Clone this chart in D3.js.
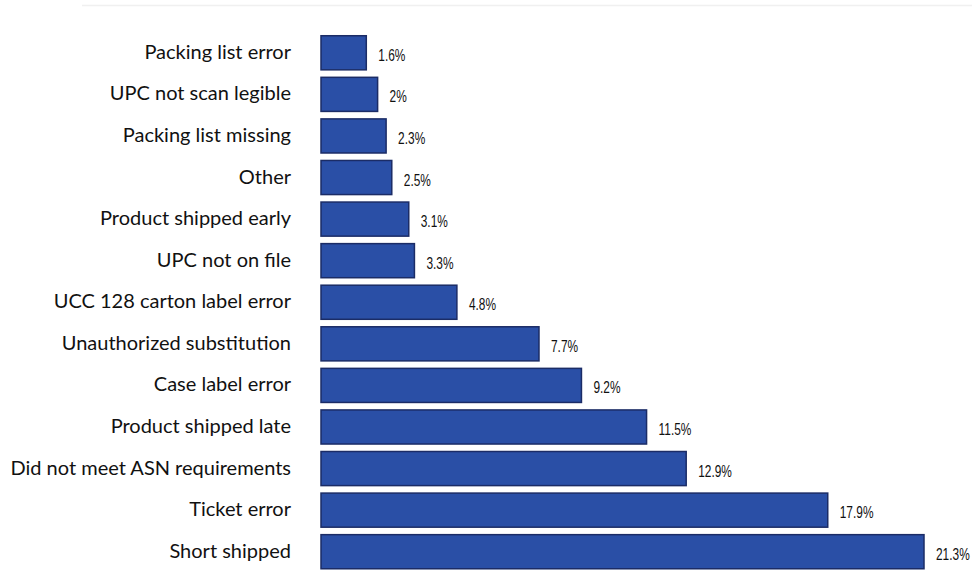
<!DOCTYPE html>
<html>
<head>
<meta charset="utf-8">
<script src="https://cdn.jsdelivr.net/npm/d3@7"></script>
<style>
  html, body { margin: 0; padding: 0; background: #fff; }
  .canvas { width: 972px; height: 574px; }
</style>
</head>
<body>
<div class="canvas"></div>
<script>
// data
const categories = [
  'Packing list error', 'UPC not scan legible', 'Packing list missing', 'Other',
  'Product shipped early', 'UPC not on file', 'UCC 128 carton label error',
  'Unauthorized substitution', 'Case label error', 'Product shipped late',
  'Did not meet ASN requirements', 'Ticket error', 'Short shipped'
];
const values = [1.6, 2, 2.3, 2.5, 3.1, 3.3, 4.8, 7.7, 9.2, 11.5, 12.9, 17.9, 21.3];
const valueLabels = ['1.6%', '2%', '2.3%', '2.5%', '3.1%', '3.3%', '4.8%', '7.7%', '9.2%', '11.5%', '12.9%', '17.9%', '21.3%'];

const data = categories.map((c, i) => ({ name: c, value: values[i], label: valueLabels[i] }));

const width = 972;
const height = 574;

const svg = d3.select('.canvas')
  .append('svg')
    .attr('width', width)
    .attr('height', height);

// faint frame line at the top
svg.append('line')
  .attr('x1', 82).attr('x2', width)
  .attr('y1', 5.5).attr('y2', 5.5)
  .attr('stroke', '#f0f0f0')
  .attr('stroke-width', 1.5);

const margin = {top: 32, left: 321};

const x = d3.scaleLinear()
  .domain([0, 21.3])
  .range([margin.left, 924]);

const y = d3.scaleBand()
  .domain(categories)
  .range([margin.top, 572.5])
  .paddingInner(0.18)
  .paddingOuter(0.09);

// bars
svg.selectAll('rect.bar')
  .data(data)
  .enter()
  .append('rect')
    .attr('class', 'bar')
    .attr('x', x(0))
    .attr('y', d => y(d.name))
    .attr('width', d => x(d.value) - x(0))
    .attr('height', y.bandwidth())
    .attr('fill', '#2a4fa6')
    .attr('stroke', '#1b2c66')
    .attr('stroke-width', 1.5);

// category labels
const yAxis = d3.axisLeft(y).tickSize(0).tickPadding(0);
const yAxisGroup = svg.append('g')
  .attr('transform', `translate(291, 0)`)
  .call(yAxis);
yAxisGroup.select('.domain').remove();
yAxisGroup.selectAll('text')
  .attr('fill', '#111')
  .attr('dy', '0.3em')
  .style('font-family', 'Lato, "Open Sans", sans-serif')
  .style('font-size', '20px');

// value labels (squeezed horizontally to look like a narrow face)
svg.selectAll('text.val')
  .data(data)
  .enter()
  .append('text')
    .attr('class', 'val')
    .attr('transform', d => `translate(${x(d.value) + 12}, ${y(d.name) + y.bandwidth() / 2 + 8}) scale(0.7, 1)`)
    .attr('fill', '#111')
    .style('font-family', '"Liberation Sans", Arial, sans-serif')
    .style('font-size', '17px')
    .text(d => d.label);
</script>
</body>
</html>
